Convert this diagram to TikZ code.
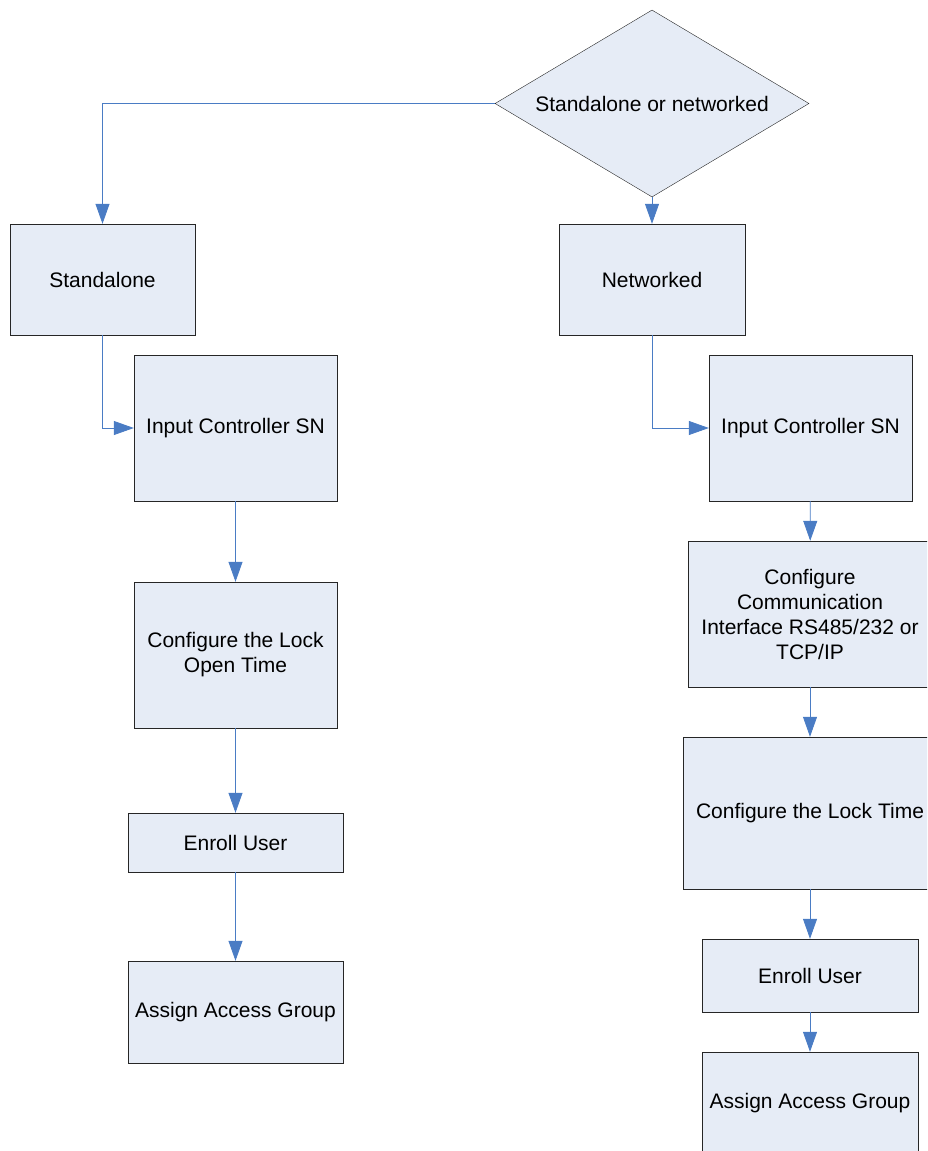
\documentclass[tikz,border=0pt]{standalone}
\usepackage{fontspec}
\setmainfont{Liberation Sans}
\usetikzlibrary{shapes.geometric,arrows.meta}

\definecolor{boxfill}{HTML}{E6ECF6}
\definecolor{linkblue}{HTML}{4A7CC4}

\tikzset{
  stepbox/.style={draw=black!85, fill=boxfill, rectangle, inner sep=0pt,
    align=center, font=\fontsize{21}{25}\selectfont},
  choice/.style={draw=black!85, fill=boxfill, diamond, inner sep=0pt,
    aspect=1.68, font=\fontsize{21}{25}\selectfont},
  flow/.style={draw=linkblue, line width=0.8pt,
    -{Triangle[length=20pt,width=14pt]}},
}

\begin{document}
\begin{tikzpicture}[x=1pt,y=-1pt]
    \useasboundingbox (0,0) rectangle (927,1151);
    \clip (0,0) rectangle (927,1151);

    % Decision
    \node[choice, minimum width=314pt, minimum height=187pt] (mode) at (652,103.5) {Standalone or networked};

    % Standalone branch
    \node[stepbox, minimum width=185pt, minimum height=111pt] (standalone) at (102.5,279.5) {Standalone};
    \node[stepbox, minimum width=203pt, minimum height=146pt] (inputA) at (235.5,428) {Input Controller SN};
    \node[stepbox, minimum width=203pt, minimum height=146pt] (lockA) at (235.5,655) {Configure the Lock\\Open Time};
    \node[stepbox, minimum width=215pt, minimum height=59pt] (enrollA) at (235.5,842.5) {Enroll User};
    \node[stepbox, minimum width=215pt, minimum height=102pt] (assignA) at (235.5,1012) {Assign Access Group};

    % Networked branch
    \node[stepbox, minimum width=186pt, minimum height=111pt] (networked) at (652,279.5) {Networked};
    \node[stepbox, minimum width=203pt, minimum height=146pt] (inputB) at (810.5,428) {Input Controller SN};
    \node[stepbox, minimum width=244pt, minimum height=146pt] (comm) at (810,614) {Configure\\Communication\\Interface RS485/232 or\\TCP/IP};
    \node[stepbox, minimum width=254pt, minimum height=152pt] (lockB) at (810,813) {Configure the Lock Time};
    \node[stepbox, minimum width=216pt, minimum height=73pt] (enrollB) at (810,975.5) {Enroll User};
    \node[stepbox, minimum width=216pt, minimum height=102pt] (assignB) at (810,1103) {Assign Access Group};

    % Connectors
    \draw[flow] (mode.west) -| (standalone.north);
    \draw[flow] (mode.south) -- (networked.north);
    \draw[flow] (standalone.south) |- (inputA.west);
    \draw[flow] (networked.south) |- (inputB.west);
    \draw[flow] (inputA) -- (lockA);
    \draw[flow] (lockA) -- (enrollA);
    \draw[flow] (enrollA) -- (assignA);
    \draw[flow] (inputB) -- (comm);
    \draw[flow] (comm) -- (lockB);
    \draw[flow] (lockB) -- (enrollB);
    \draw[flow] (enrollB) -- (assignB);
\end{tikzpicture}
\end{document}
